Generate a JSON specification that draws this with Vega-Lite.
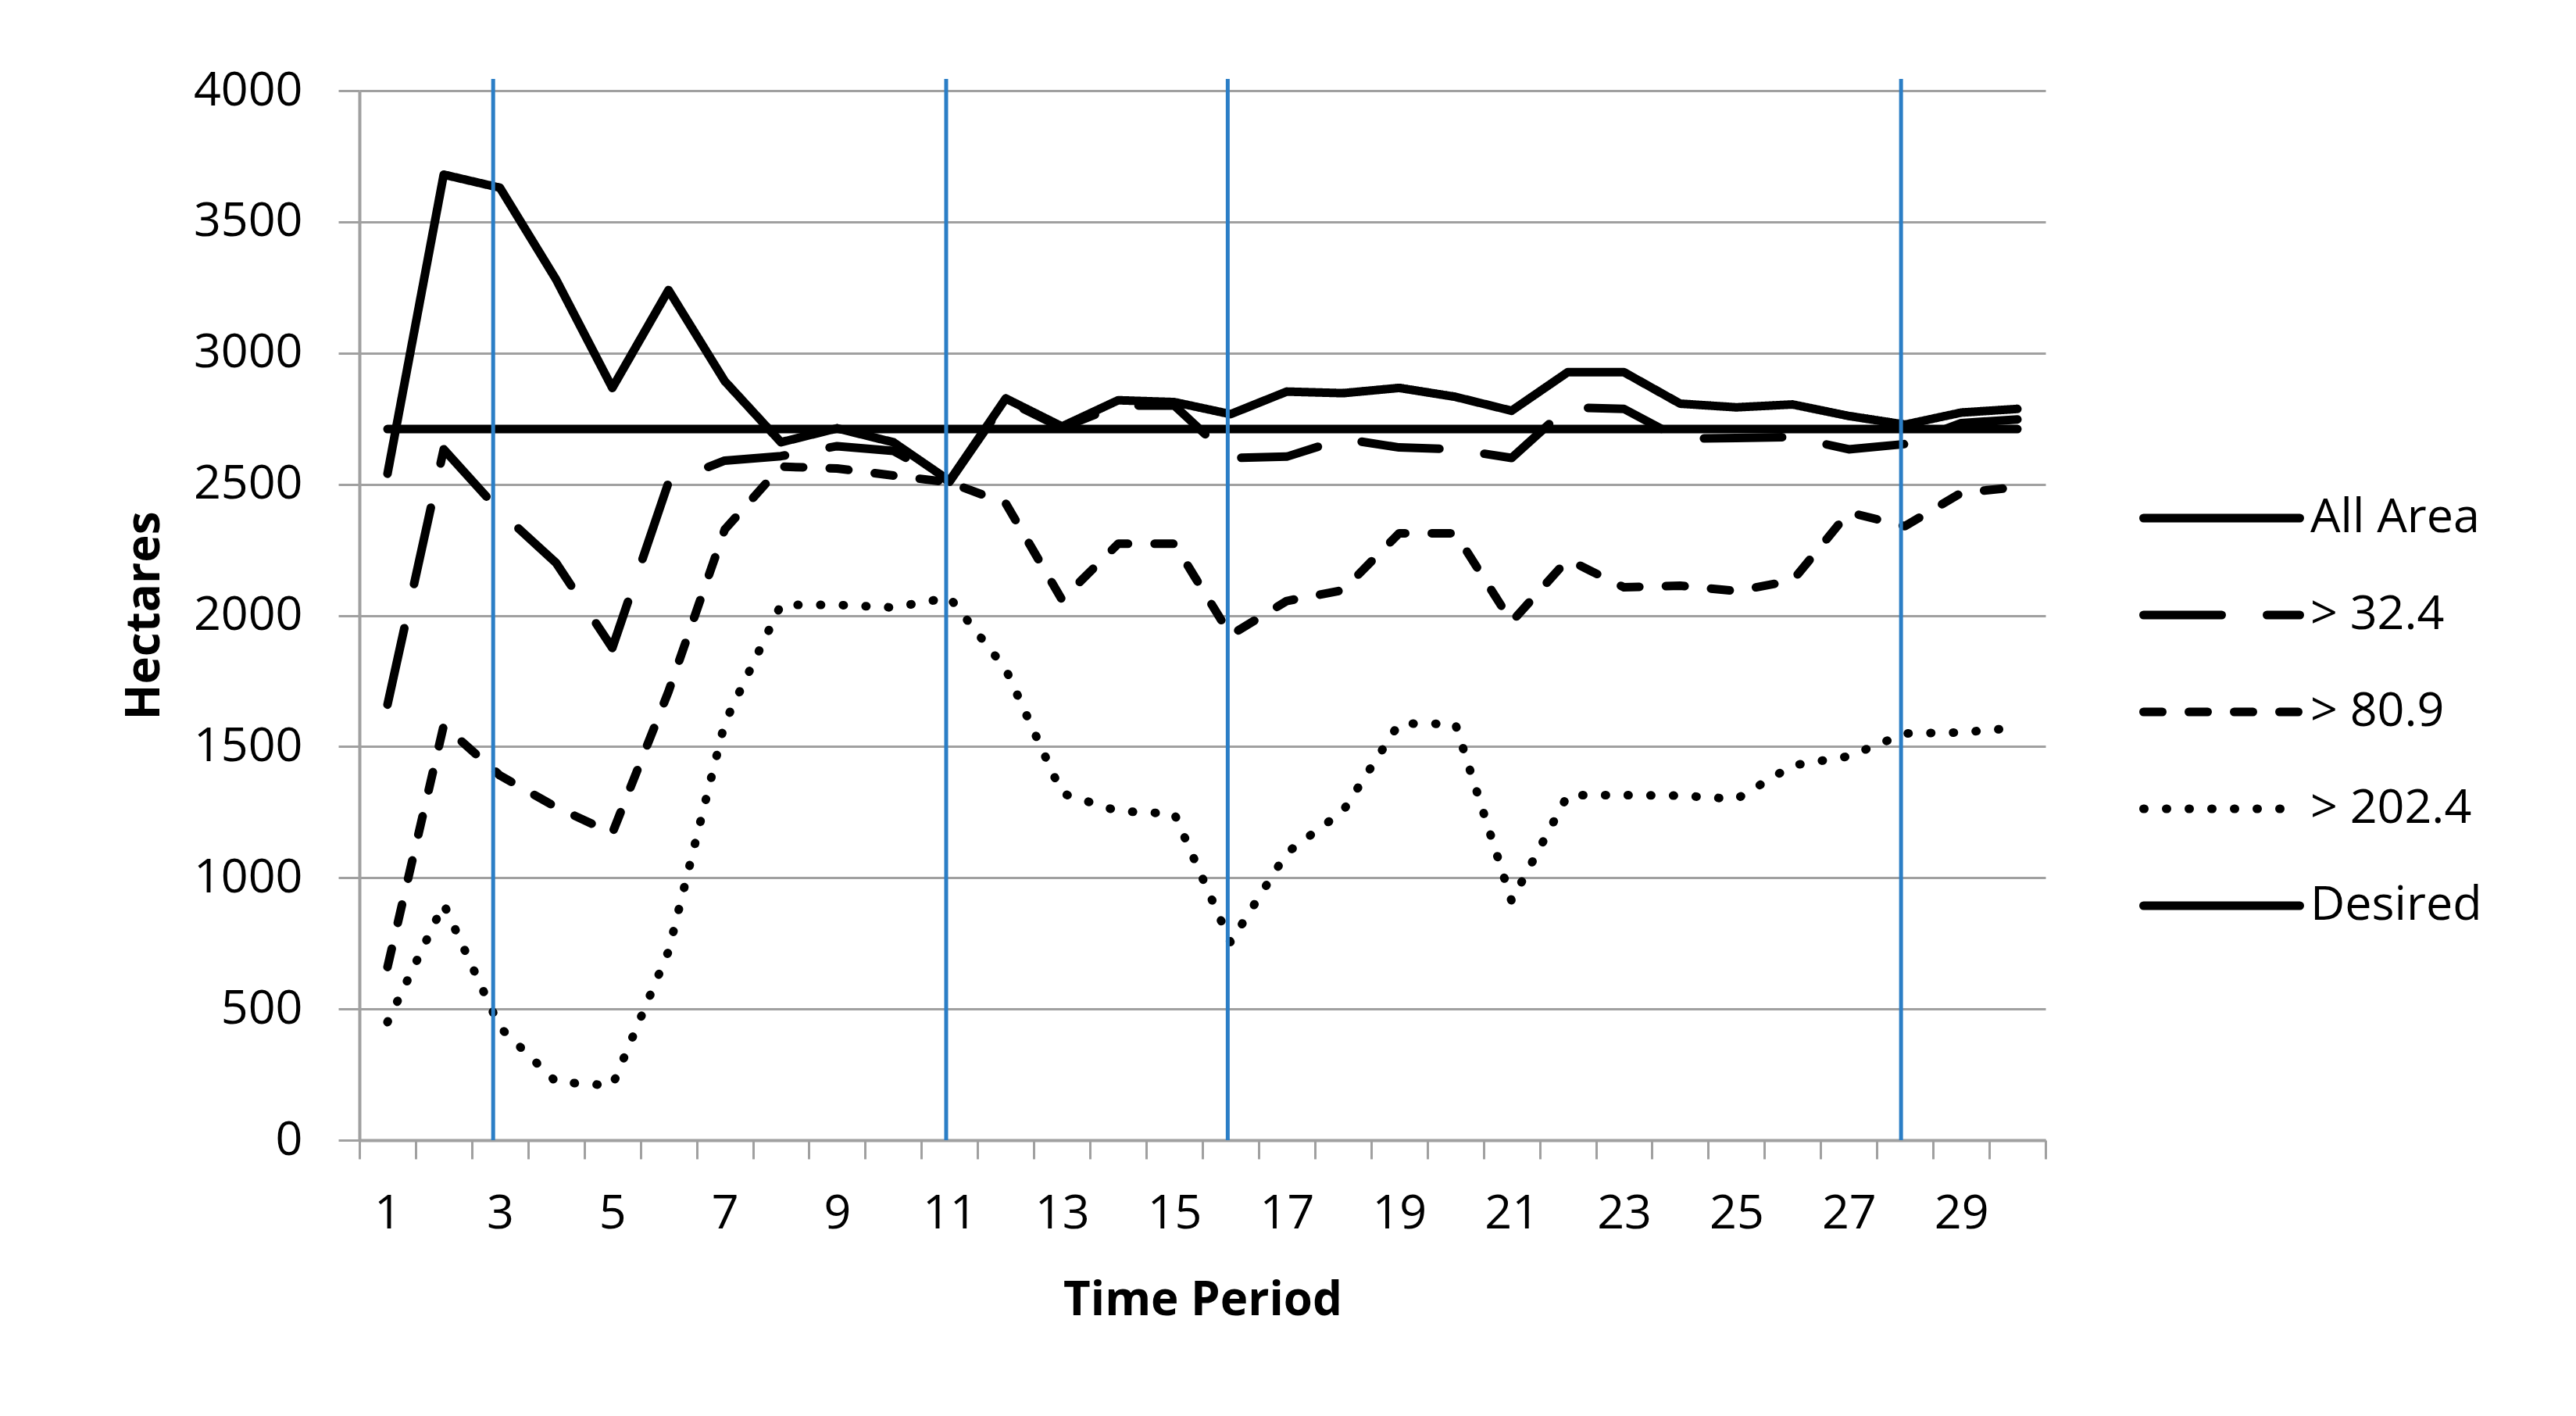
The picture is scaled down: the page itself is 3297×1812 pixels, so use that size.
{
  "$schema": "https://vega.github.io/schema/vega-lite/v6.json",
  "width": 2158,
  "height": 1343,
  "autosize": {"type": "none"},
  "padding": {"left": 460, "top": 116, "right": 679, "bottom": 353},
  "background": "white",
  "config": {"view": {"stroke": null}, "font": "Open Sans"},
  "datasets": {
    "series": [
      {"t": 1, "s": "All Area", "v": 2540}, {"t": 2, "s": "All Area", "v": 3680}, {"t": 3, "s": "All Area", "v": 3630}, {"t": 4, "s": "All Area", "v": 3280}, {"t": 5, "s": "All Area", "v": 2867}, {"t": 6, "s": "All Area", "v": 3240}, {"t": 7, "s": "All Area", "v": 2893}, {"t": 8, "s": "All Area", "v": 2660}, {"t": 9, "s": "All Area", "v": 2713}, {"t": 10, "s": "All Area", "v": 2660},
      {"t": 11, "s": "All Area", "v": 2513}, {"t": 12, "s": "All Area", "v": 2827}, {"t": 13, "s": "All Area", "v": 2720}, {"t": 14, "s": "All Area", "v": 2820}, {"t": 15, "s": "All Area", "v": 2813}, {"t": 16, "s": "All Area", "v": 2767}, {"t": 17, "s": "All Area", "v": 2853}, {"t": 18, "s": "All Area", "v": 2847}, {"t": 19, "s": "All Area", "v": 2867}, {"t": 20, "s": "All Area", "v": 2833},
      {"t": 21, "s": "All Area", "v": 2780}, {"t": 22, "s": "All Area", "v": 2927}, {"t": 23, "s": "All Area", "v": 2927}, {"t": 24, "s": "All Area", "v": 2807}, {"t": 25, "s": "All Area", "v": 2793}, {"t": 26, "s": "All Area", "v": 2804}, {"t": 27, "s": "All Area", "v": 2760}, {"t": 28, "s": "All Area", "v": 2727}, {"t": 29, "s": "All Area", "v": 2773}, {"t": 30, "s": "All Area", "v": 2787},
      {"t": 1, "s": "> 32.4", "v": 1660}, {"t": 2, "s": "> 32.4", "v": 2633}, {"t": 3, "s": "> 32.4", "v": 2396}, {"t": 4, "s": "> 32.4", "v": 2200}, {"t": 5, "s": "> 32.4", "v": 1876}, {"t": 6, "s": "> 32.4", "v": 2507}, {"t": 7, "s": "> 32.4", "v": 2590}, {"t": 8, "s": "> 32.4", "v": 2607}, {"t": 9, "s": "> 32.4", "v": 2645}, {"t": 10, "s": "> 32.4", "v": 2627},
      {"t": 11, "s": "> 32.4", "v": 2510}, {"t": 12, "s": "> 32.4", "v": 2820}, {"t": 13, "s": "> 32.4", "v": 2715}, {"t": 14, "s": "> 32.4", "v": 2800}, {"t": 15, "s": "> 32.4", "v": 2800}, {"t": 16, "s": "> 32.4", "v": 2600}, {"t": 17, "s": "> 32.4", "v": 2605}, {"t": 18, "s": "> 32.4", "v": 2673}, {"t": 19, "s": "> 32.4", "v": 2640}, {"t": 20, "s": "> 32.4", "v": 2633},
      {"t": 21, "s": "> 32.4", "v": 2600}, {"t": 22, "s": "> 32.4", "v": 2793}, {"t": 23, "s": "> 32.4", "v": 2787}, {"t": 24, "s": "> 32.4", "v": 2673}, {"t": 25, "s": "> 32.4", "v": 2676}, {"t": 26, "s": "> 32.4", "v": 2680}, {"t": 27, "s": "> 32.4", "v": 2633}, {"t": 28, "s": "> 32.4", "v": 2653}, {"t": 29, "s": "> 32.4", "v": 2733}, {"t": 30, "s": "> 32.4", "v": 2747},
      {"t": 1, "s": "> 80.9", "v": 660}, {"t": 2, "s": "> 80.9", "v": 1580}, {"t": 3, "s": "> 80.9", "v": 1390}, {"t": 4, "s": "> 80.9", "v": 1269}, {"t": 5, "s": "> 80.9", "v": 1170}, {"t": 6, "s": "> 80.9", "v": 1710}, {"t": 7, "s": "> 80.9", "v": 2327}, {"t": 8, "s": "> 80.9", "v": 2567}, {"t": 9, "s": "> 80.9", "v": 2560}, {"t": 10, "s": "> 80.9", "v": 2533},
      {"t": 11, "s": "> 80.9", "v": 2507}, {"t": 12, "s": "> 80.9", "v": 2427}, {"t": 13, "s": "> 80.9", "v": 2060}, {"t": 14, "s": "> 80.9", "v": 2273}, {"t": 15, "s": "> 80.9", "v": 2273}, {"t": 16, "s": "> 80.9", "v": 1925}, {"t": 17, "s": "> 80.9", "v": 2055}, {"t": 18, "s": "> 80.9", "v": 2096}, {"t": 19, "s": "> 80.9", "v": 2313}, {"t": 20, "s": "> 80.9", "v": 2313},
      {"t": 21, "s": "> 80.9", "v": 1975}, {"t": 22, "s": "> 80.9", "v": 2213}, {"t": 23, "s": "> 80.9", "v": 2107}, {"t": 24, "s": "> 80.9", "v": 2113}, {"t": 25, "s": "> 80.9", "v": 2093}, {"t": 26, "s": "> 80.9", "v": 2133}, {"t": 27, "s": "> 80.9", "v": 2393}, {"t": 28, "s": "> 80.9", "v": 2340}, {"t": 29, "s": "> 80.9", "v": 2467}, {"t": 30, "s": "> 80.9", "v": 2489},
      {"t": 1, "s": "> 202.4", "v": 450}, {"t": 2, "s": "> 202.4", "v": 900}, {"t": 3, "s": "> 202.4", "v": 430}, {"t": 4, "s": "> 202.4", "v": 222}, {"t": 5, "s": "> 202.4", "v": 208}, {"t": 6, "s": "> 202.4", "v": 720}, {"t": 7, "s": "> 202.4", "v": 1590}, {"t": 8, "s": "> 202.4", "v": 2040}, {"t": 9, "s": "> 202.4", "v": 2040}, {"t": 10, "s": "> 202.4", "v": 2030},
      {"t": 11, "s": "> 202.4", "v": 2068}, {"t": 12, "s": "> 202.4", "v": 1795}, {"t": 13, "s": "> 202.4", "v": 1322}, {"t": 14, "s": "> 202.4", "v": 1254}, {"t": 15, "s": "> 202.4", "v": 1244}, {"t": 16, "s": "> 202.4", "v": 754}, {"t": 17, "s": "> 202.4", "v": 1095}, {"t": 18, "s": "> 202.4", "v": 1254}, {"t": 19, "s": "> 202.4", "v": 1588}, {"t": 20, "s": "> 202.4", "v": 1586},
      {"t": 21, "s": "> 202.4", "v": 912}, {"t": 22, "s": "> 202.4", "v": 1315}, {"t": 23, "s": "> 202.4", "v": 1315}, {"t": 24, "s": "> 202.4", "v": 1313}, {"t": 25, "s": "> 202.4", "v": 1300}, {"t": 26, "s": "> 202.4", "v": 1428}, {"t": 27, "s": "> 202.4", "v": 1463}, {"t": 28, "s": "> 202.4", "v": 1550}, {"t": 29, "s": "> 202.4", "v": 1554}, {"t": 30, "s": "> 202.4", "v": 1572},
      {"t": 1, "s": "Desired", "v": 2710}, {"t": 2, "s": "Desired", "v": 2710}, {"t": 3, "s": "Desired", "v": 2710}, {"t": 4, "s": "Desired", "v": 2710}, {"t": 5, "s": "Desired", "v": 2710}, {"t": 6, "s": "Desired", "v": 2710}, {"t": 7, "s": "Desired", "v": 2710}, {"t": 8, "s": "Desired", "v": 2710}, {"t": 9, "s": "Desired", "v": 2710}, {"t": 10, "s": "Desired", "v": 2710},
      {"t": 11, "s": "Desired", "v": 2710}, {"t": 12, "s": "Desired", "v": 2710}, {"t": 13, "s": "Desired", "v": 2710}, {"t": 14, "s": "Desired", "v": 2710}, {"t": 15, "s": "Desired", "v": 2710}, {"t": 16, "s": "Desired", "v": 2710}, {"t": 17, "s": "Desired", "v": 2710}, {"t": 18, "s": "Desired", "v": 2710}, {"t": 19, "s": "Desired", "v": 2710}, {"t": 20, "s": "Desired", "v": 2710},
      {"t": 21, "s": "Desired", "v": 2710}, {"t": 22, "s": "Desired", "v": 2710}, {"t": 23, "s": "Desired", "v": 2710}, {"t": 24, "s": "Desired", "v": 2710}, {"t": 25, "s": "Desired", "v": 2710}, {"t": 26, "s": "Desired", "v": 2710}, {"t": 27, "s": "Desired", "v": 2710}, {"t": 28, "s": "Desired", "v": 2710}, {"t": 29, "s": "Desired", "v": 2710}, {"t": 30, "s": "Desired", "v": 2710}
    ],
    "markers": [{"t": 2.88}, {"t": 10.94}, {"t": 15.95}, {"t": 27.93}]
  },
  "layer": [
    {
      "data": {"name": "series"},
      "mark": {"type": "line", "strokeWidth": 11, "strokeCap": "round", "strokeJoin": "round", "color": "black"},
      "encoding": {
        "x": {
          "field": "t", "type": "quantitative",
          "scale": {"domain": [0.5, 30.5], "nice": false, "zero": false},
          "axis": {
            "values": [0.5, 1.5, 2.5, 3.5, 4.5, 5.5, 6.5, 7.5, 8.5, 9.5, 10.5, 11.5, 12.5, 13.5, 14.5, 15.5, 16.5, 17.5, 18.5, 19.5, 20.5, 21.5, 22.5, 23.5, 24.5, 25.5, 26.5, 27.5, 28.5, 29.5, 30.5],
            "labelExpr": "((datum.value % 2) == 0.5 && datum.value < 30) ? format(datum.value + 0.5, 'd') : ''",
            "labelOffset": 36,
            "labelOverlap": false,
            "labelFlush": false,
            "labelBound": false,
            "grid": false,
            "tickSize": 24, "tickWidth": 3, "tickColor": "#a0a0a0",
            "domainColor": "#a0a0a0", "domainWidth": 4,
            "labelFontSize": 61, "labelColor": "black", "labelPadding": 40,
            "title": "Time Period", "titleFontSize": 60, "titleFontWeight": "bold", "titleColor": "black", "titlePadding": 52
          }
        },
        "y": {
          "field": "v", "type": "quantitative",
          "scale": {"domain": [0, 4000], "nice": false},
          "axis": {
            "values": [0, 500, 1000, 1500, 2000, 2500, 3000, 3500, 4000],
            "format": "d",
            "grid": true, "gridColor": "#a0a0a0", "gridWidth": 3,
            "tickSize": 27, "tickWidth": 3, "tickColor": "#a0a0a0",
            "domainColor": "#a0a0a0", "domainWidth": 4,
            "labelFontSize": 61, "labelColor": "black", "labelPadding": 46,
            "title": "Hectares", "titleFontSize": 60, "titleFontWeight": "bold", "titleColor": "black", "titlePadding": 44
          }
        },
        "strokeDash": {
          "field": "s", "type": "nominal",
          "scale": {
            "domain": ["All Area", "> 32.4", "> 80.9", "> 202.4", "Desired"],
            "range": [[1, 0], [100, 58], [24, 34], [1, 28], [1, 0]]
          },
          "legend": {
            "title": null,
            "orient": "none",
            "legendX": 2278,
            "legendY": 485,
            "symbolType": "stroke",
            "symbolSize": 40000,
            "symbolStrokeWidth": 11,
            "symbolStrokeColor": "black",
            "labelFontSize": 61,
            "labelColor": "black",
            "labelOffset": 8,
            "labelLimit": 600,
            "clipHeight": 124,
            "rowPadding": 0,
            "encode": {"symbols": {"update": {"strokeCap": {"value": "round"}}}}
          }
        }
      }
    },
    {
      "data": {"name": "markers"},
      "mark": {"type": "rule", "color": "#2b7ec6", "strokeWidth": 5},
      "encoding": {
        "x": {"field": "t", "type": "quantitative"},
        "y": {"datum": 0},
        "y2": {"datum": 4045}
      }
    }
  ]
}
